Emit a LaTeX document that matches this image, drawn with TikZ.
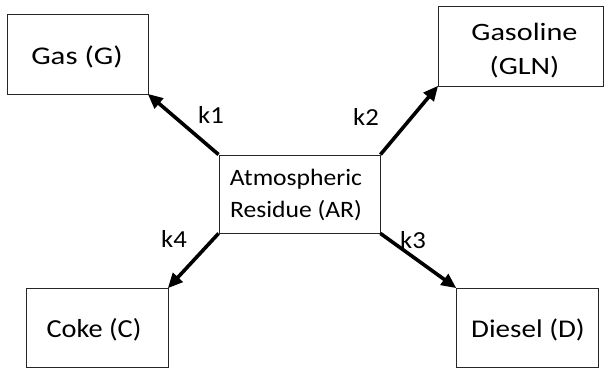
\documentclass[tikz,border=0pt]{standalone}
\usepackage{fontspec}
\setmainfont[FakeStretch=1.09]{Carlito}
\newfontfamily\midfont[FakeStretch=1.14]{Carlito}
\newfontfamily\widefont[FakeStretch=1.21]{Carlito}
\usetikzlibrary{arrows.meta}
% box caption: horizontal offset, baseline offset of the first line, lines
\newcommand\captionlines[3]{\raisebox{#2}[0pt][0pt]{\makebox[0pt]{\kern#1\kern#1\begin{tabular}[t]{@{}c@{}}#3\end{tabular}}}}
\begin{document}
\begin{tikzpicture}[x=1pt,y=-1pt,
  box/.style={draw=black!85, line width=0.9pt, fill=white, inner sep=0pt},
  flow/.style={line width=3.6pt, -{Triangle[length=15pt,width=13pt]}, shorten >=-1pt},
  rate/.style={anchor=base west, inner sep=0pt, font=\fontsize{24.5}{28}\selectfont}]
\useasboundingbox (0,0) rectangle (605,372);
% product and feed boxes
\node[box, minimum width=141pt, minimum height=80pt, font=\widefont\fontsize{25.5}{34}\selectfont]
  (G) at (77.5,54) {\captionlines{-0.5pt}{-10pt}{Gas (G)}};
\node[box, minimum width=165pt, minimum height=80pt, font=\widefont\fontsize{25}{34}\selectfont]
  (GLN) at (520.5,46) {\captionlines{4pt}{6pt}{Gasoline\\(GLN)}};
\node[box, minimum width=161pt, minimum height=78pt, font=\fontsize{23.5}{32}\selectfont]
  (AR) at (299.5,194) {\captionlines{-3.5pt}{9pt}{Atmospheric\\Residue (AR)}};
\node[box, minimum width=142pt, minimum height=79pt, font=\fontsize{26}{34}\selectfont]
  (C) at (97,327.5) {\captionlines{-3pt}{-9.5pt}{Coke (C)}};
\node[box, minimum width=142pt, minimum height=79pt, font=\midfont\fontsize{25.5}{34}\selectfont]
  (D) at (527,327.5) {\captionlines{1pt}{-9.5pt}{Diesel (D)}};
% reaction paths
\draw[flow] (AR.north west) -- (G.south east);
\draw[flow] (AR.north east) -- (GLN.south west);
\draw[flow] (AR.south east) -- (D.north west);
\draw[flow] (AR.south west) -- (C.north east);
% rate constants
\node[rate] (k1) at (198,123) {k1};
\node[rate] (k2) at (353,125) {k2};
\node[rate] (k3) at (400,248) {k3};
\node[rate] (k4) at (161,247) {k4};
\end{tikzpicture}
\end{document}
